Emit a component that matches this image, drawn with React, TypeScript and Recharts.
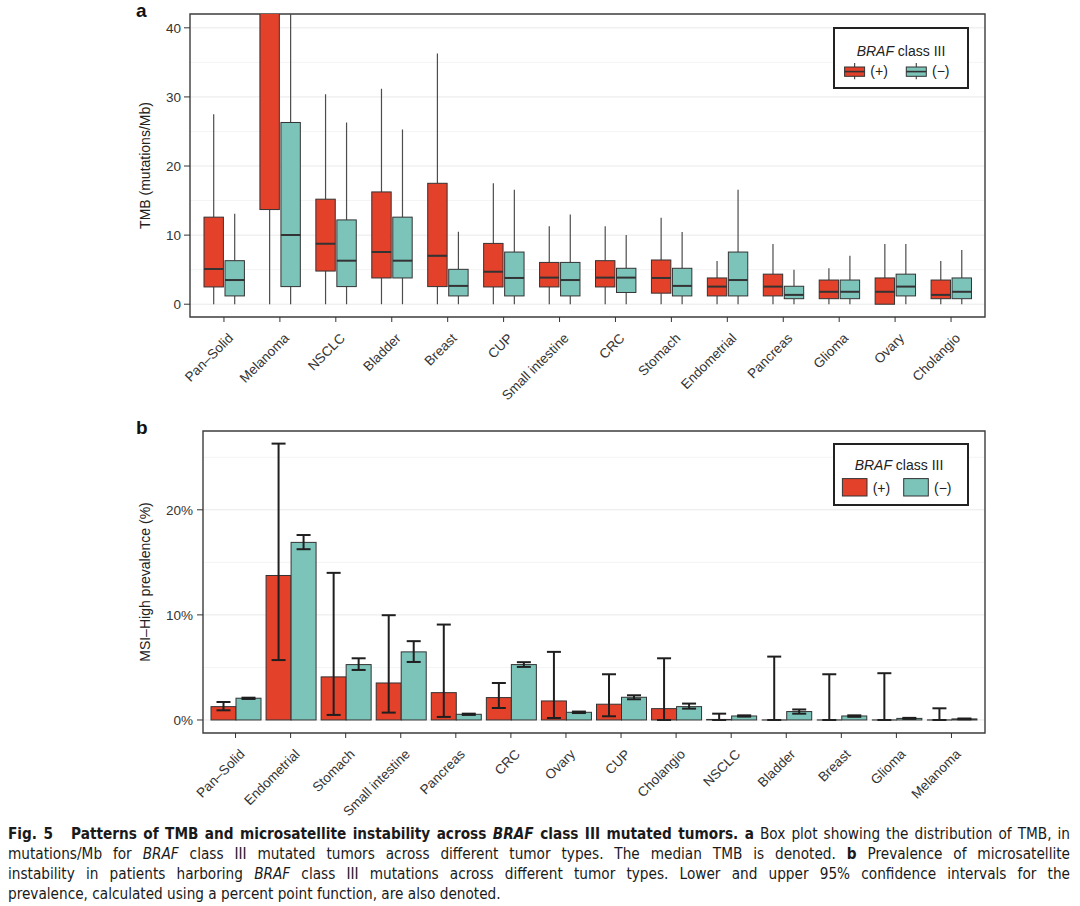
import React from "react";
import { ComposedChart, Bar, XAxis, YAxis, CartesianGrid, Legend, ErrorBar, ReferenceArea } from "recharts";

const FONT = "'Liberation Sans', Arial, sans-serif";
const RED = "#E4412B";
const TEAL = "#7CC4BA";

// panel a: TMB box plots, [min, q1, median, q3, max] in mutations/Mb
const tmbTumors = ["Pan–Solid", "Melanoma", "NSCLC", "Bladder", "Breast", "CUP", "Small intestine", "CRC", "Stomach", "Endometrial", "Pancreas", "Glioma", "Ovary", "Cholangio"];
const tmbPos = [
  [0, 2.5, 5.1, 12.6, 27.5],
  [0, 13.7, 47, 62, 95],
  [0, 4.8, 8.75, 15.2, 30.4],
  [0, 3.8, 7.55, 16.25, 31.2],
  [0, 2.55, 7.0, 17.5, 36.3],
  [0, 2.5, 4.7, 8.8, 17.5],
  [0, 2.5, 3.85, 6.05, 11.3],
  [0, 2.5, 3.85, 6.3, 11.3],
  [0, 1.6, 3.8, 6.4, 12.5],
  [0, 1.2, 2.55, 3.8, 6.25],
  [0, 1.2, 2.55, 4.35, 8.7],
  [0, 0.8, 1.8, 3.5, 5.2],
  [0, 0, 1.8, 3.8, 8.7],
  [0, 0.8, 1.35, 3.5, 6.25],
];
const tmbNeg = [
  [0, 1.2, 3.5, 6.3, 13.1],
  [0, 2.55, 10.0, 26.3, 55],
  [0, 2.55, 6.3, 12.2, 26.3],
  [0, 3.8, 6.3, 12.6, 25.3],
  [0, 1.2, 2.65, 5.05, 10.5],
  [0, 1.2, 3.8, 7.55, 16.55],
  [0, 1.2, 3.5, 6.05, 13.0],
  [0, 1.7, 3.85, 5.2, 10.0],
  [0, 1.2, 2.65, 5.2, 10.45],
  [0, 1.2, 3.5, 7.55, 16.55],
  [0, 0.8, 1.35, 2.6, 5.0],
  [0, 0.8, 1.8, 3.5, 7.0],
  [0, 1.2, 2.55, 4.35, 8.7],
  [0, 0.8, 1.8, 3.8, 7.85],
];
const tmbDomain = [-1.85, 42];
const tmbTicks = [0, 10, 20, 30, 40];
const tmbMinor = [5, 15, 25, 35];

// panel b: MSI-high prevalence (%) with 95% CI
const msiTumors = ["Pan–Solid", "Endometrial", "Stomach", "Small intestine", "Pancreas", "CRC", "Ovary", "CUP", "Cholangio", "NSCLC", "Bladder", "Breast", "Glioma", "Melanoma"];
const msiPos = [1.27, 13.75, 4.1, 3.52, 2.6, 2.13, 1.81, 1.5, 1.08, 0.05, 0, 0, 0, 0];
const msiPosLo = [0.92, 5.7, 0.48, 0.7, 0.29, 1.14, 0.19, 0.35, 0, 0, 0, 0, 0, 0];
const msiPosHi = [1.71, 26.3, 14.0, 9.97, 9.08, 3.52, 6.48, 4.35, 5.87, 0.6, 6.03, 4.35, 4.45, 1.11];
const msiNeg = [2.07, 16.9, 5.27, 6.48, 0.54, 5.27, 0.73, 2.16, 1.27, 0.38, 0.8, 0.38, 0.15, 0.1];
const msiNegLo = [2.0, 16.25, 4.76, 5.52, 0.48, 5.05, 0.66, 1.97, 1.08, 0.32, 0.6, 0.3, 0.1, 0.06];
const msiNegHi = [2.12, 17.6, 5.87, 7.5, 0.6, 5.5, 0.8, 2.35, 1.56, 0.44, 1.0, 0.44, 0.2, 0.14];
const msiDomain = [-1.24, 27.5];
const msiTicks = [0, 10, 20];
const msiMinor = [5, 15, 25];

const classLabels = ["(+)", "(−)"];

const tmbData = tmbTumors.map((tumor, i) => ({
  tumor,
  pos: tmbPos[i],
  neg: tmbNeg[i],
  posRange: [tmbPos[i][0], tmbPos[i][4]],
  negRange: [tmbNeg[i][0], tmbNeg[i][4]],
}));

const msiData = msiTumors.map((tumor, i) => ({
  tumor,
  pos: msiPos[i],
  neg: msiNeg[i],
  posErr: [msiPos[i] - msiPosLo[i], msiPosHi[i] - msiPos[i]],
  negErr: [msiNeg[i] - msiNegLo[i], msiNegHi[i] - msiNeg[i]],
}));

const makeBox = (key: "pos" | "neg", fill: string) => (props: any) => {
  const { x, y, width, height, payload } = props;
  const [mn, q1, med, q3, mx] = payload[key];
  const k = height / (mx - mn);
  const py = (v: number) => y + height - (v - mn) * k;
  const cx = x + width / 2;
  return (
    <g>
      <line x1={cx} x2={cx} y1={py(mx)} y2={py(q3)} stroke="#4d4d4d" strokeWidth={1.2} />
      <line x1={cx} x2={cx} y1={py(q1)} y2={py(mn)} stroke="#4d4d4d" strokeWidth={1.2} />
      <rect x={x} y={py(q3)} width={width} height={py(q1) - py(q3)} fill={fill} stroke="#333" strokeWidth={1} />
      <line x1={x} x2={x + width} y1={py(med)} y2={py(med)} stroke="#333" strokeWidth={2} />
    </g>
  );
};

const MsiBar = (props: any) => {
  const { x, y, width, height, fill } = props;
  if (!(height > 0.5)) {
    return <line x1={x} x2={x + width} y1={y + (height || 0)} y2={y + (height || 0)} stroke="#333" strokeWidth={1.2} />;
  }
  return <rect x={x} y={y} width={width} height={height} fill={fill} stroke="#333" strokeWidth={1} />;
};

const SlantTick = (props: any) => {
  const { x, y, payload } = props;
  return (
    <g transform={`translate(${x + 10},${y + 15})`}>
      <text transform="rotate(-45)" textAnchor="end" fill="#333" fontSize={13.5} fontFamily={FONT}>
        {payload.value}
      </text>
    </g>
  );
};

const LegendBox = () => (
  <svg width={136} height={62}>
    <rect x={1} y={1} width={134} height={60} fill="#fff" stroke="#222" strokeWidth={2} />
    <text x={68} y={28.5} textAnchor="middle" fontSize={14} fontFamily={FONT} fill="#222">
      <tspan fontStyle="italic">BRAF</tspan> class III
    </text>
    {[RED, TEAL].map((c, i) => {
      const x0 = 11.6 + i * 61.7;
      return (
        <g key={c}>
          <line x1={x0 + 10} x2={x0 + 10} y1={36} y2={52.3} stroke="#4d4d4d" strokeWidth={1.2} />
          <rect x={x0} y={40} width={20} height={9.3} fill={c} stroke="#333" strokeWidth={1} />
          <line x1={x0} x2={x0 + 20} y1={44.6} y2={44.6} stroke="#333" strokeWidth={1.6} />
          <text x={x0 + 25.7} y={49} fontSize={14} fontFamily={FONT} fill="#222">{classLabels[i]}</text>
        </g>
      );
    })}
  </svg>
);

const LegendSwatch = () => (
  <svg width={136} height={63}>
    <rect x={1} y={1} width={134} height={61} fill="#fff" stroke="#222" strokeWidth={2} />
    <text x={66} y={26.6} textAnchor="middle" fontSize={14} fontFamily={FONT} fill="#222">
      <tspan fontStyle="italic">BRAF</tspan> class III
    </text>
    {[RED, TEAL].map((c, i) => {
      const x0 = 9.4 + i * 61.3;
      return (
        <g key={c}>
          <rect x={x0} y={35.6} width={24.6} height={17.4} fill={c} stroke="#333" strokeWidth={1} />
          <text x={x0 + 30.3} y={49.5} fontSize={14} fontFamily={FONT} fill="#222">{classLabels[i]}</text>
        </g>
      );
    })}
  </svg>
);

const tickStyle = { fill: "#333", fontSize: 13.5, fontFamily: FONT };
const axisLabelStyle = { textAnchor: "middle" as const, fill: "#222", fontSize: 14, fontFamily: FONT };
const lineStyle = { textAlign: "justify" as const, textAlignLast: "justify" as const };

export default function App() {
  return (
    <div style={{ position: "absolute", left: 0, top: 0, width: 1080, height: 906, background: "#fff", overflow: "hidden" }}>
      <div style={{ position: "absolute", left: 136, top: 0, fontFamily: FONT, fontWeight: "bold", fontSize: 19, lineHeight: "22px", color: "#111" }}>a</div>
      <div style={{ position: "absolute", left: 0, top: 0 }}>
        <ComposedChart width={1080} height={410} data={tmbData} margin={{ top: 14, right: 95, bottom: 4, left: 140 }} barSize={19.4} barGap={1.6}>
          <CartesianGrid vertical={false} horizontalValues={tmbMinor} stroke="#f4f4f4" />
          <CartesianGrid vertical={false} horizontalValues={tmbTicks} stroke="#e9e9e9" />
          <XAxis dataKey="tumor" interval={0} height={89} padding={{ left: 6, right: 6 }} tickSize={5} tickLine={{ stroke: "#333" }} axisLine={false} tick={<SlantTick />} />
          <XAxis xAxisId="frame" dataKey="tumor" hide />
          <YAxis
            type="number"
            domain={tmbDomain}
            allowDataOverflow
            ticks={tmbTicks}
            width={50}
            tickSize={6}
            tickMargin={3}
            tick={tickStyle}
            tickLine={{ stroke: "#333" }}
            axisLine={false}
            label={{ value: "TMB (mutations/Mb)", angle: -90, position: "insideLeft", offset: 5, style: axisLabelStyle }}
          />
          <Legend layout="horizontal" verticalAlign="middle" align="center" content={<LegendBox />} wrapperStyle={{ left: 833, top: 27, width: 136, height: 62 }} />
          <Bar dataKey="posRange" fill={RED} shape={makeBox("pos", RED)} isAnimationActive={false} />
          <Bar dataKey="negRange" fill={TEAL} shape={makeBox("neg", TEAL)} isAnimationActive={false} />
          <ReferenceArea xAxisId="frame" x1={tmbTumors[0]} x2={tmbTumors[tmbTumors.length - 1]} y1={tmbDomain[0]} y2={tmbDomain[1]} fill="none" stroke="#3c3c3c" strokeWidth={1.4} ifOverflow="visible" />
        </ComposedChart>
      </div>

      <div style={{ position: "absolute", left: 136, top: 417, fontFamily: FONT, fontWeight: "bold", fontSize: 19, lineHeight: "22px", color: "#111" }}>b</div>
      <div style={{ position: "absolute", left: 0, top: 410 }}>
        <ComposedChart width={1080} height={410} data={msiData} margin={{ top: 21, right: 95, bottom: 3, left: 143 }} barSize={25} barGap={0}>
          <CartesianGrid vertical={false} horizontalValues={msiMinor} stroke="#f4f4f4" />
          <CartesianGrid vertical={false} horizontalValues={msiTicks} stroke="#e9e9e9" />
          <XAxis dataKey="tumor" interval={0} height={84} padding={{ left: 5, right: 6 }} tickSize={5} tickLine={{ stroke: "#333" }} axisLine={false} tick={<SlantTick />} />
          <XAxis xAxisId="frame" dataKey="tumor" hide />
          <YAxis
            type="number"
            domain={msiDomain}
            allowDataOverflow
            ticks={msiTicks}
            tickFormatter={(v: number) => `${v}%`}
            width={60}
            tickSize={6}
            tickMargin={4}
            tick={tickStyle}
            tickLine={{ stroke: "#333" }}
            axisLine={false}
            label={{ value: "MSI–High prevalence (%)", angle: -90, position: "insideLeft", offset: 2, style: axisLabelStyle }}
          />
          <Legend layout="horizontal" verticalAlign="middle" align="center" content={<LegendSwatch />} wrapperStyle={{ left: 833, top: 33, width: 136, height: 63 }} />
          <Bar dataKey="pos" fill={RED} shape={MsiBar} isAnimationActive={false}>
            <ErrorBar dataKey="posErr" width={7} strokeWidth={2} stroke="#1f1f1f" direction="y" />
          </Bar>
          <Bar dataKey="neg" fill={TEAL} shape={MsiBar} isAnimationActive={false}>
            <ErrorBar dataKey="negErr" width={7} strokeWidth={2} stroke="#1f1f1f" direction="y" />
          </Bar>
          <ReferenceArea xAxisId="frame" x1={msiTumors[0]} x2={msiTumors[msiTumors.length - 1]} y1={msiDomain[0]} y2={msiDomain[1]} fill="none" stroke="#3c3c3c" strokeWidth={1.4} ifOverflow="visible" />
        </ComposedChart>
      </div>

      <div style={{ position: "absolute", left: 8, top: 824, width: 1062, fontFamily: "'Liberation Sans Narrow', 'DejaVu Sans Condensed', 'Open Sans', sans-serif", fontSize: 15.2, lineHeight: "20px", color: "#1a1a1a" }}>
        <div style={lineStyle}>
          <b>Fig. 5</b>&nbsp;&nbsp; <b>Patterns of TMB and microsatellite instability across <i>BRAF</i> class III mutated tumors. a</b> Box plot showing the distribution of TMB, in
        </div>
        <div style={lineStyle}>
          mutations/Mb for <i>BRAF</i> class III mutated tumors across different tumor types. The median TMB is denoted. <b>b</b> Prevalence of microsatellite
        </div>
        <div style={lineStyle}>
          instability in patients harboring <i>BRAF</i> class III mutations across different tumor types. Lower and upper 95% confidence intervals for the
        </div>
        <div>prevalence, calculated using a percent point function, are also denoted.</div>
      </div>
    </div>
  );
}
